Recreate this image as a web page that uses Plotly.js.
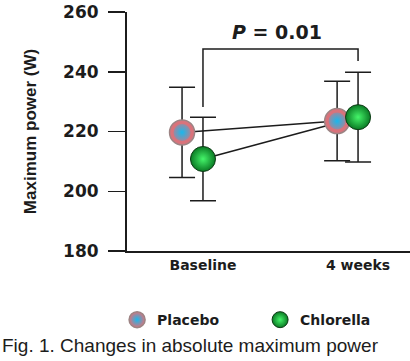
<!DOCTYPE html>
<html>
<head>
<meta charset="utf-8">
<script src="https://cdn.plot.ly/plotly-3.0.1.min.js"></script>
<style>html,body{margin:0;padding:0;background:#fff;}#chart{width:410px;height:361px;}</style>
</head>
<body>
<div id="chart"></div>
<script>
// ---- data ----
const categories = ['Baseline', '4 weeks'];
const categoryIndex = [0, 1];
const placeboMean = [219.7, 223.5];
const placeboSD = [15.1, 13.3];
const chlorellaMean = [210.8, 224.8];
const chlorellaSD = [14.0, 15.0];
const yTicks = [180, 200, 220, 240, 260];
const seriesNames = ['Placebo', 'Chlorella'];
const pText = '<i>P</i> = 0.01';
const bracketLegY = [228.2, 243.6];   // lower ends of the bracket legs
const bracketTopY = 247.6;
const captionText = 'Fig. 1. Changes in absolute maximum power';

// ---- styling ----
const placeboOffset = -0.135;   // placebo drawn slightly left of the category
const ink = '#1c1c1c';
const boldFont = 'DejaVu Sans, sans-serif';
const xPlacebo = categoryIndex.map(v => v + placeboOffset);
const xChlorella = categoryIndex.slice();

const traces = [
  { x: xPlacebo, y: placeboMean, mode: 'lines', line: {color: ink, width: 1.5},
    showlegend: false, hoverinfo: 'skip' },
  { x: xChlorella, y: chlorellaMean, mode: 'lines', line: {color: ink, width: 1.5},
    showlegend: false, hoverinfo: 'skip' },
  { name: seriesNames[0], x: xPlacebo, y: placeboMean, mode: 'markers',
    error_y: {type: 'data', array: placeboSD, visible: true, color: ink, thickness: 1.5, width: 13},
    marker: {size: 25, color: '#d9737b', gradient: {type: 'radial', color: '#18b8ee'},
             line: {color: '#9c8484', width: 1.5}} },
  { x: xPlacebo, y: placeboMean, mode: 'markers', showlegend: false, hoverinfo: 'skip',
    marker: {size: 20, symbol: 'circle-open', color: '#d9737b', line: {color: '#d9737b', width: 3}} },
  { name: seriesNames[1], x: xChlorella, y: chlorellaMean, mode: 'markers',
    error_y: {type: 'data', array: chlorellaSD, visible: true, color: ink, thickness: 1.5, width: 13},
    marker: {size: 25, color: '#0a7a24', gradient: {type: 'radial', color: '#45f56a'},
             line: {color: '#0c3a14', width: 1}} }
];

const layout = {
  width: 410, height: 361,
  margin: {l: 127, r: 0, t: 12, b: 110},
  paper_bgcolor: '#fff', plot_bgcolor: '#fff',
  showlegend: true,
  legend: {orientation: 'h', x: -0.035, xanchor: 'left', y: -0.289, yanchor: 'middle',
           entrywidth: 98, font: {family: boldFont, size: 14, color: ink, weight: 'bold'},
           bgcolor: 'rgba(0,0,0,0)'},
  xaxis: {range: [-0.49, 1.335], tickvals: categoryIndex, ticktext: categories,
          ticks: '', showline: true, linewidth: 2, linecolor: ink, showgrid: false, zeroline: false,
          tickfont: {family: boldFont, size: 14, color: ink, weight: 'bold'}, ticklabelstandoff: 0,
          fixedrange: true},
  yaxis: {range: [180, 260], tickvals: yTicks, ticks: 'outside', ticklen: 17, tickwidth: 1.5,
          tickcolor: ink, showline: true, linewidth: 2, linecolor: ink, showgrid: false, zeroline: false,
          tickfont: {family: boldFont, size: 17, color: ink, weight: 'bold'}, ticklabelstandoff: 6,
          title: {text: 'Maximum power (W)', standoff: 22,
                  font: {family: 'Liberation Sans, Arial, sans-serif', size: 17, color: ink, weight: 'bold'}},
          fixedrange: true},
  shapes: [
    {type: 'path', xref: 'x', yref: 'y',
     path: 'M ' + categoryIndex[0] + ' ' + bracketLegY[0] + ' L ' + categoryIndex[0] + ' ' + bracketTopY +
           ' L ' + categoryIndex[1] + ' ' + bracketTopY + ' L ' + categoryIndex[1] + ' ' + bracketLegY[1],
     line: {color: ink, width: 1.5}}
  ],
  annotations: [
    {text: pText, xref: 'x', yref: 'y', x: (categoryIndex[0] + categoryIndex[1]) / 2 - 0.02, y: 253.3,
     showarrow: false, xanchor: 'center', yanchor: 'middle',
     font: {family: boldFont, size: 19, color: ink, weight: 'bold'}},
    {text: captionText, xref: 'paper', yref: 'paper', x: -127 / 283, y: -0.397,
     xanchor: 'left', yanchor: 'middle', showarrow: false,
     font: {family: 'Liberation Sans, Arial, sans-serif', size: 19, color: ink}}
  ]
};

Plotly.newPlot('chart', traces, layout, {displayModeBar: false, staticPlot: true});
</script>
</body>
</html>
